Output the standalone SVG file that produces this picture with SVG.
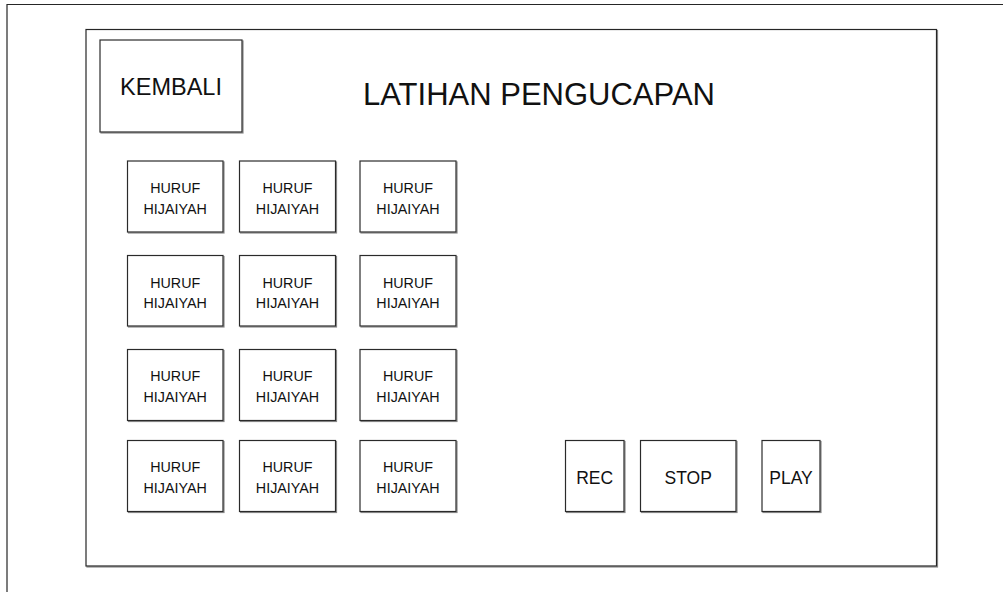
<svg xmlns="http://www.w3.org/2000/svg" width="1003" height="592" viewBox="0 0 1003 592">
  <defs>
    <filter id="shadow" x="-5%" y="-5%" width="110%" height="110%">
      <feDropShadow dx="1" dy="1" stdDeviation="0.4" flood-color="#8a8a8a" flood-opacity="1"/>
    </filter>
  </defs>
  <style>
    .frame { fill: #ffffff; stroke: #262626; stroke-width: 1.2; }
    .box { fill: #ffffff; stroke: #2b2b2b; stroke-width: 1.2; filter: url(#shadow); }
    text { font-family: "Liberation Sans", Arial, sans-serif; fill: #111111; text-anchor: middle; }
    .title { font-size: 31px; }
    .back { font-size: 23.5px; }
    .cell { font-size: 14.3px; }
    .ctrl { font-size: 17.5px; }
  </style>

  <rect width="1003" height="592" fill="#ffffff"/>

  <!-- device outline, running off the page to the right and bottom -->
  <g id="device">
    <path d="M7 600 V4.5 H1010" fill="none" stroke="#262626" stroke-width="1.2"/>
  </g>

  <!-- screen -->
  <g id="screen">
    <rect class="frame" x="86" y="29.5" width="850.5" height="536.5" filter="url(#shadow)"/>
  </g>

  <g id="title">
    <text class="title" x="539" y="104.5">LATIHAN PENGUCAPAN</text>
  </g>

  <g id="btn-kembali">
    <rect class="box" x="100" y="40" width="142" height="92"/>
    <text class="back" x="171" y="95">KEMBALI</text>
  </g>

  <!-- letter grid: 3 columns x 4 rows -->
  <g id="huruf-r1c1"><rect class="box" x="127.5" y="161" width="95.5" height="71"/><text class="cell" x="175.2" y="193">HURUF</text><text class="cell" x="175.2" y="213.5">HIJAIYAH</text></g>
  <g id="huruf-r1c2"><rect class="box" x="239.5" y="161" width="96" height="71"/><text class="cell" x="287.5" y="193">HURUF</text><text class="cell" x="287.5" y="213.5">HIJAIYAH</text></g>
  <g id="huruf-r1c3"><rect class="box" x="360" y="161" width="96" height="71"/><text class="cell" x="408" y="193">HURUF</text><text class="cell" x="408" y="213.5">HIJAIYAH</text></g>

  <g id="huruf-r2c1"><rect class="box" x="127.5" y="255.5" width="95.5" height="70.5"/><text class="cell" x="175.2" y="287.5">HURUF</text><text class="cell" x="175.2" y="308">HIJAIYAH</text></g>
  <g id="huruf-r2c2"><rect class="box" x="239.5" y="255.5" width="96" height="70.5"/><text class="cell" x="287.5" y="287.5">HURUF</text><text class="cell" x="287.5" y="308">HIJAIYAH</text></g>
  <g id="huruf-r2c3"><rect class="box" x="360" y="255.5" width="96" height="70.5"/><text class="cell" x="408" y="287.5">HURUF</text><text class="cell" x="408" y="308">HIJAIYAH</text></g>

  <g id="huruf-r3c1"><rect class="box" x="127.5" y="349.5" width="95.5" height="71"/><text class="cell" x="175.2" y="381">HURUF</text><text class="cell" x="175.2" y="401.5">HIJAIYAH</text></g>
  <g id="huruf-r3c2"><rect class="box" x="239.5" y="349.5" width="96" height="71"/><text class="cell" x="287.5" y="381">HURUF</text><text class="cell" x="287.5" y="401.5">HIJAIYAH</text></g>
  <g id="huruf-r3c3"><rect class="box" x="360" y="349.5" width="96" height="71"/><text class="cell" x="408" y="381">HURUF</text><text class="cell" x="408" y="401.5">HIJAIYAH</text></g>

  <g id="huruf-r4c1"><rect class="box" x="127.5" y="440.5" width="95.5" height="71"/><text class="cell" x="175.2" y="472">HURUF</text><text class="cell" x="175.2" y="492.5">HIJAIYAH</text></g>
  <g id="huruf-r4c2"><rect class="box" x="239.5" y="440.5" width="96" height="71"/><text class="cell" x="287.5" y="472">HURUF</text><text class="cell" x="287.5" y="492.5">HIJAIYAH</text></g>
  <g id="huruf-r4c3"><rect class="box" x="360" y="440.5" width="96" height="71"/><text class="cell" x="408" y="472">HURUF</text><text class="cell" x="408" y="492.5">HIJAIYAH</text></g>

  <!-- recorder controls -->
  <g id="btn-rec"><rect class="box" x="565.5" y="440.5" width="58.5" height="71"/><text class="ctrl" x="594.7" y="484">REC</text></g>
  <g id="btn-stop"><rect class="box" x="640.5" y="440.5" width="95.5" height="71"/><text class="ctrl" x="688.2" y="484">STOP</text></g>
  <g id="btn-play"><rect class="box" x="762" y="440.5" width="58" height="71"/><text class="ctrl" x="791" y="484">PLAY</text></g>

  <!-- no connectors in this layout -->
  <g id="connectors"/>
</svg>
